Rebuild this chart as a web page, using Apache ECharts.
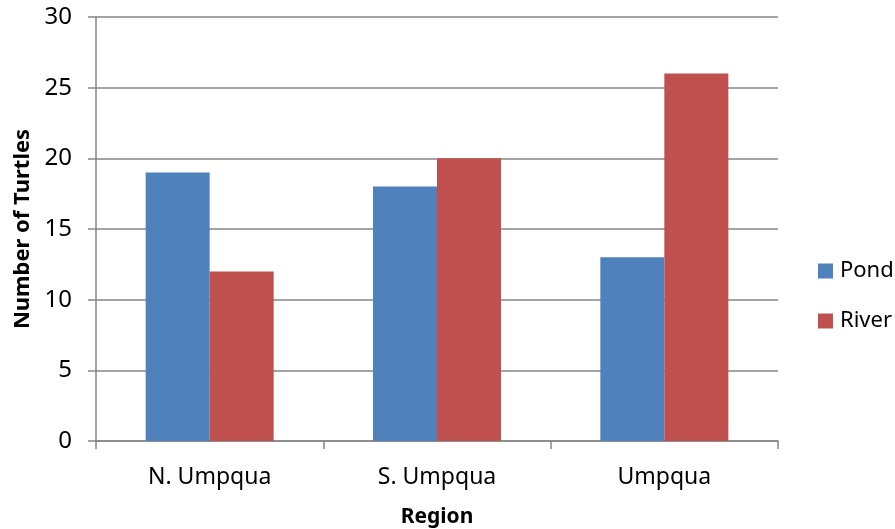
<!DOCTYPE html>
<html>
<head>
<meta charset="utf-8">
<script src="https://cdn.jsdelivr.net/npm/echarts@6/dist/echarts.min.js"></script>
<style>
  html, body { margin: 0; padding: 0; background: #fff; }
  #main { width: 895px; height: 529px; }
</style>
</head>
<body>
<div id="main"></div>
<script>
var regions = ["N. Umpqua", "S. Umpqua", "Umpqua"];
var pond = [19, 18, 13];
var river = [12, 20, 26];
var yTicks = [0, 5, 10, 15, 20, 25, 30];

var myChart = echarts.init(document.querySelector("#main"));
var font = "Noto Sans";
var axisColor = "#868686";

var option = {
  animation: false,
  textStyle: { fontFamily: font },
  grid: { left: 96, right: 117, top: 17, bottom: 88, containLabel: false, outerBoundsMode: "none" },
  legend: {
    orient: "vertical",
    left: 818,
    top: 260,
    padding: 0,
    itemWidth: 15,
    itemHeight: 15,
    itemGap: 28,
    icon: "rect",
    textStyle: { fontFamily: font, fontSize: 22, color: "#000", padding: [0, 0, 0, 2] },
    data: ["Pond", "River"]
  },
  xAxis: {
    type: "category",
    data: regions,
    name: "Region",
    nameLocation: "middle",
    nameGap: 66,
    nameTextStyle: { fontFamily: font, fontSize: 21, fontWeight: "bold", color: "#000" },
    axisLine: { lineStyle: { color: axisColor, width: 1.5 } },
    axisTick: { show: true, length: 8, lineStyle: { color: axisColor, width: 1.5 } },
    axisLabel: { fontFamily: font, fontSize: 23, color: "#000", margin: 25 }
  },
  yAxis: {
    type: "value",
    min: yTicks[0],
    max: yTicks[yTicks.length - 1],
    interval: 5,
    name: "Number of Turtles",
    nameLocation: "middle",
    nameGap: 62,
    nameTextStyle: { fontFamily: font, fontSize: 22, fontWeight: "bold", color: "#000" },
    axisLine: { show: true, lineStyle: { color: axisColor, width: 1.5 } },
    axisTick: { show: true, length: 8, lineStyle: { color: axisColor, width: 1.5 } },
    axisLabel: { fontFamily: font, fontSize: 24, color: "#000", margin: 24 },
    splitLine: { lineStyle: { color: axisColor, width: 1.5 } }
  },
  series: [
    {
      name: "Pond",
      type: "bar",
      data: pond,
      barWidth: 64,
      barGap: "0%",
      itemStyle: { color: "#4F81BD" }
    },
    {
      name: "River",
      type: "bar",
      data: river,
      barWidth: 64,
      barGap: "0%",
      itemStyle: { color: "#C0504D" }
    }
  ]
};

myChart.setOption(option);
</script>
</body>
</html>
